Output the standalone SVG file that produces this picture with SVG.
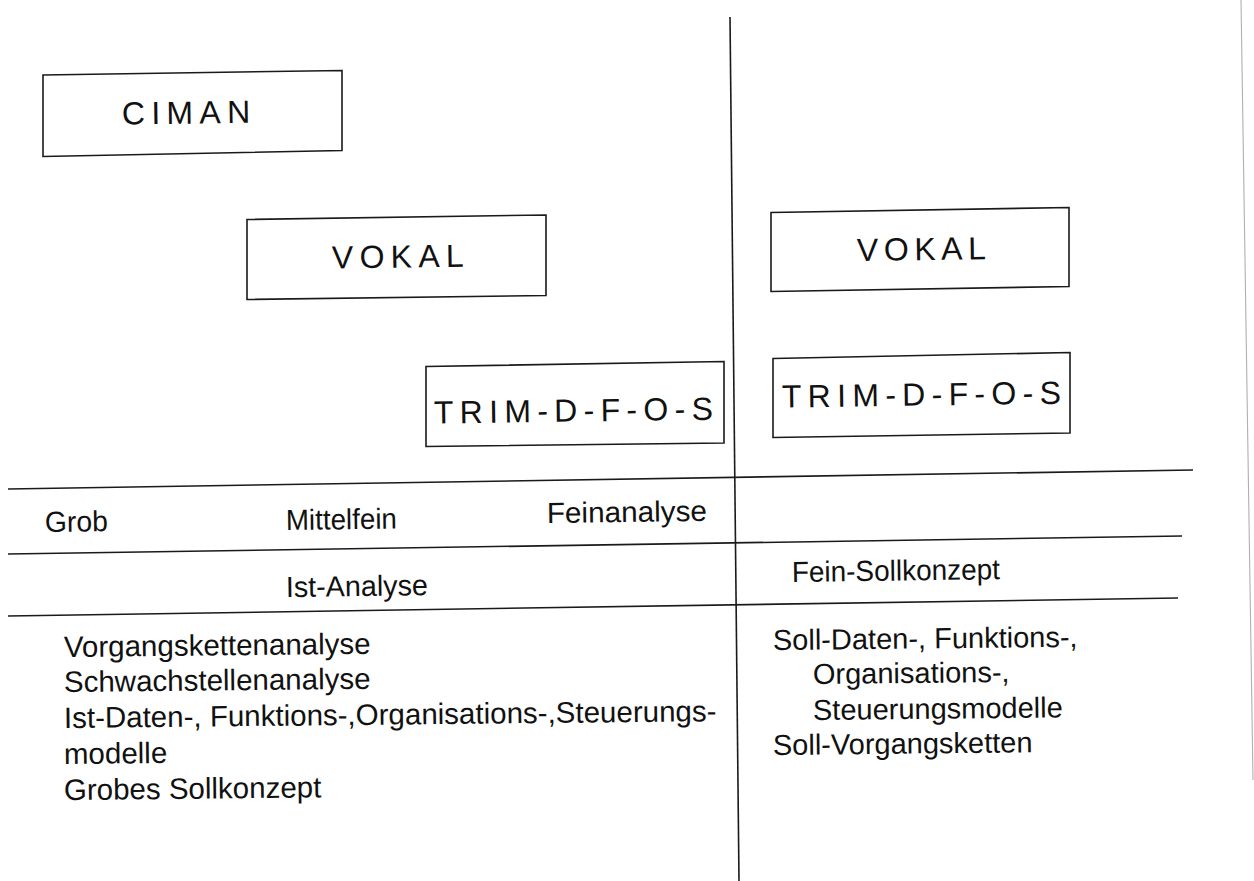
<svg xmlns="http://www.w3.org/2000/svg" width="1254" height="881" viewBox="0 0 1254 881">
  <style>
    .frame { fill: none; stroke: #1a1a1a; stroke-width: 1.6; stroke-linejoin: miter; }
    .rule { stroke: #1a1a1a; stroke-width: 1.6; fill: none; }
    .tool { font-family: "Liberation Sans", Arial, Helvetica, sans-serif; font-size: 32px; letter-spacing: 6.3px; fill: #111; }
    .lbl { font-family: "Liberation Sans", Arial, Helvetica, sans-serif; font-size: 29px; fill: #111; }
    .item { font-family: "Liberation Sans", Arial, Helvetica, sans-serif; font-size: 29.5px; fill: #111; }
    .item-r { font-family: "Liberation Sans", Arial, Helvetica, sans-serif; font-size: 29px; fill: #111; }
  </style>
  <rect x="0" y="0" width="1254" height="881" fill="#ffffff"/>

  <!-- tool boxes: Ist-Analyse side -->
  <g id="node-ciman">
    <polygon class="frame" points="43,75 342,70.5 342,150.5 43,156.5"/>
    <text class="tool" x="122" y="124.5" transform="rotate(-0.8 122 124.5)">CIMAN</text>
  </g>
  <g id="node-vokal-ist">
    <polygon class="frame" points="247,219.5 546,215 546,295.5 247,299.5"/>
    <text class="tool" x="332" y="268.5" transform="rotate(-0.8 332 268.5)">VOKAL</text>
  </g>
  <g id="node-trim-ist">
    <polygon class="frame" points="426,366.5 724,361.5 724,443 426,446.5"/>
    <text class="tool" x="434" y="423.5" transform="rotate(-0.8 434 423.5)">TRIM-D-F-O-S</text>
  </g>

  <!-- tool boxes: Soll-Konzept side -->
  <g id="node-vokal-soll">
    <polygon class="frame" points="771,212.5 1069,207.5 1069,286.5 771,291.5"/>
    <text class="tool" x="857" y="261" style="letter-spacing:5.6px" transform="rotate(-0.8 857 261)">VOKAL</text>
  </g>
  <g id="node-trim-soll">
    <polygon class="frame" points="773,358.5 1070,352.5 1070,433 773,437.5"/>
    <text class="tool" x="782" y="407.5" transform="rotate(-0.8 782 407.5)">TRIM-D-F-O-S</text>
  </g>

  <!-- table rules and column divider -->
  <g id="connectors">
    <line class="rule" x1="730" y1="17" x2="739" y2="881"/>
    <line class="rule" x1="8" y1="489" x2="1193" y2="470"/>
    <line class="rule" x1="8" y1="554" x2="1182" y2="536"/>
    <line class="rule" x1="8" y1="616" x2="1178" y2="598"/>
    <line x1="1241" y1="0" x2="1253" y2="780" stroke="#b0b0b0" stroke-width="1.1"/>
  </g>

  <!-- depth of analysis row -->
  <g id="row-depth">
    <text class="lbl" x="45" y="532" textLength="63" lengthAdjust="spacingAndGlyphs" transform="rotate(-0.8 45 532)">Grob</text>
    <text class="lbl" x="286" y="530" textLength="111" lengthAdjust="spacingAndGlyphs" transform="rotate(-0.8 286 530)">Mittelfein</text>
    <text class="lbl" x="547" y="523" textLength="160" lengthAdjust="spacingAndGlyphs" transform="rotate(-0.8 547 523)">Feinanalyse</text>
  </g>

  <!-- phase row -->
  <g id="row-phase">
    <text class="lbl" x="286" y="597" textLength="142" lengthAdjust="spacingAndGlyphs" transform="rotate(-0.8 286 597)">Ist-Analyse</text>
    <text class="lbl" x="792" y="582" textLength="208" lengthAdjust="spacingAndGlyphs" transform="rotate(-0.8 792 582)">Fein-Sollkonzept</text>
  </g>

  <!-- results of the Ist-Analyse -->
  <g id="list-ist" class="item">
    <text x="64" y="657" transform="rotate(-0.6 64 657)">Vorgangskettenanalyse</text>
    <text x="64" y="692" transform="rotate(-0.6 64 692)">Schwachstellenanalyse</text>
    <text x="64" y="728" transform="rotate(-0.6 64 728)">Ist-Daten-, Funktions-,Organisations-,Steuerungs-</text>
    <text x="64" y="764" transform="rotate(-0.6 64 764)">modelle</text>
    <text x="64" y="800" transform="rotate(-0.6 64 800)">Grobes Sollkonzept</text>
  </g>

  <!-- results of the Fein-Sollkonzept -->
  <g id="list-soll" class="item-r">
    <text x="773" y="650" transform="rotate(-0.6 773 650)">Soll-Daten-, Funktions-,</text>
    <text x="813" y="684" transform="rotate(-0.6 813 684)">Organisations-,</text>
    <text x="813" y="720" transform="rotate(-0.6 813 720)">Steuerungsmodelle</text>
    <text x="773" y="755" transform="rotate(-0.6 773 755)">Soll-Vorgangsketten</text>
  </g>
</svg>
